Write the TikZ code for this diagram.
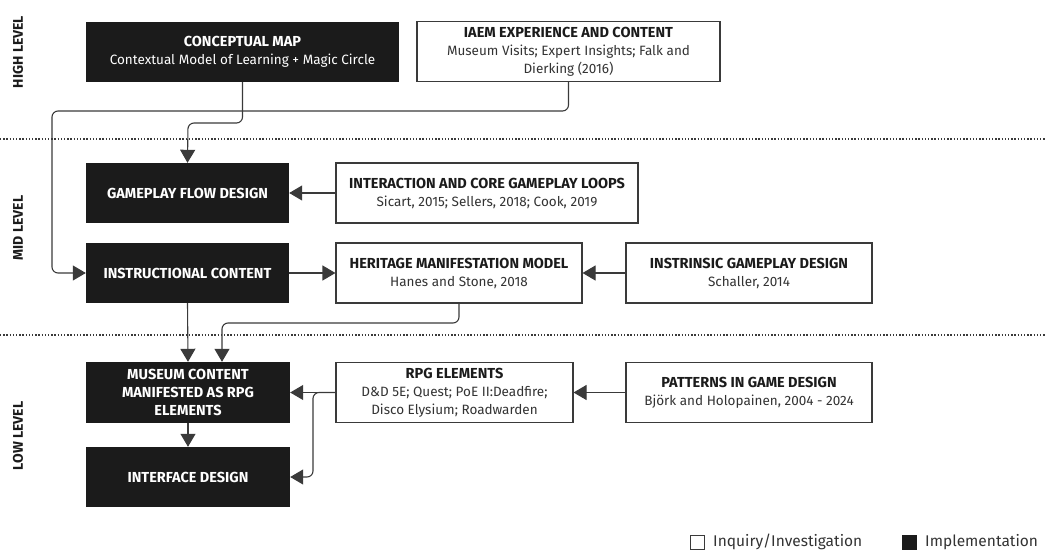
\documentclass[tikz,border=0pt]{standalone}
\usepackage{fontspec}
\setmainfont{Fira Sans}
\usetikzlibrary{arrows.meta}
\definecolor{ink}{HTML}{1B1B1B}
\definecolor{wire}{HTML}{3A3A3A}
\definecolor{sub}{HTML}{333333}
\newcommand{\hd}[1]{{\bfseries\fontsize{14.5}{18}\selectfont\color{ink}#1}}
\begin{document}
\begin{tikzpicture}[x=1pt,y=-1pt,
  txt/.style={font=\fontsize{13.5}{18}\selectfont},
  base/.style={txt, minimum height=60pt, inner sep=0pt, align=center},
  impl/.style={base, fill=ink, text=white, font=\bfseries\fontsize{14.5}{18}\selectfont},
  inq/.style={base, draw=wire, line width=1.1pt, fill=white, text=sub},
  link/.style={draw=wire, line width=1.1pt, -{Triangle[length=13pt,width=15pt]}},
  level/.style={rotate=90, text=ink, font=\bfseries\fontsize{14}{16}\selectfont},
  legend/.style={text=sub, anchor=west, inner sep=0pt, font=\fontsize{15.5}{18}\selectfont},
  sep/.style={draw=wire, line width=1.4pt, dash pattern=on 1.3pt off 1.9pt}]
\useasboundingbox (0,0) rectangle (1046,551);

% level separators
\draw[sep] (0,139) -- (1046,139);
\draw[sep] (0,335) -- (1046,335);

% level labels
\node[level] (lhigh) at (18,52) {HIGH LEVEL};
\node[level] (lmid) at (18,228) {MID LEVEL};
\node[level] (llow) at (18,436) {LOW LEVEL};

% high level
\node[impl, minimum width=313pt] (cmap) at (242.5,52)
  {CONCEPTUAL MAP\\\mdseries\fontsize{13.5}{18}\selectfont Contextual Model of Learning + Magic Circle};
\node[inq, minimum width=303pt] (iaem) at (568.5,51.5)
  {\hd{IAEM EXPERIENCE AND CONTENT}\\Museum Visits; Expert Insights; Falk and\\Dierking (2016)};

% mid level
\node[impl, minimum width=203pt] (gfd) at (187.5,193) {GAMEPLAY FLOW DESIGN};
\node[inq, minimum width=302pt] (inter) at (487,193)
  {\hd{INTERACTION AND CORE GAMEPLAY LOOPS}\\Sicart, 2015; Sellers, 2018; Cook, 2019};
\node[impl, minimum width=203pt] (instr) at (187.5,273) {INSTRUCTIONAL CONTENT};
\node[inq, minimum width=246pt] (herit) at (459,273)
  {\hd{HERITAGE MANIFESTATION MODEL}\\Hanes and Stone, 2018};
\node[inq, minimum width=246pt] (intrin) at (749,273)
  {\hd{INSTRINSIC GAMEPLAY DESIGN}\\Schaller, 2014};

% low level
\node[impl, minimum width=204pt, minimum height=61pt] (museum) at (188,392.5)
  {MUSEUM CONTENT\\MANIFESTED AS RPG\\ELEMENTS};
\node[inq, minimum width=237pt] (rpg) at (454.5,392.5)
  {\hd{RPG ELEMENTS}\\D\&D 5E; Quest; PoE II:Deadfire;\\Disco Elysium; Roadwarden};
\node[inq, minimum width=246pt] (patt) at (749,392.5)
  {\hd{PATTERNS IN GAME DESIGN}\\Björk and Holopainen, 2004 - 2024};
\node[impl, minimum width=204pt] (iface) at (188,477) {INTERFACE DESIGN};

% bend points
\coordinate (cbend) at (188,123);
\coordinate (ibend) at (52,111);
\coordinate (hbend) at (222,323);
\coordinate (rbend) at (313,392.5);

% connectors
\draw[link, rounded corners=6pt] (cmap.south) |- (cbend) -- (gfd.north);
\draw[link, rounded corners=6pt] (iaem.south) |- (ibend) |- (instr.west);
\draw[link] (inter.west) -- (gfd.east);
\draw[link] (instr.east) -- (herit.west);
\draw[link] (intrin.west) -- (herit.east);
\draw[link] (instr.south) -- (museum.north);
\draw[link, rounded corners=6pt] (herit.south) |- (hbend) -- (hbend |- museum.north);
\draw[link] (museum.south) -- (iface.north);
\draw[link] (patt.west) -- (rpg.east);
\draw[link] (rpg.west) -- (museum.east);
\draw[link, rounded corners=6pt] (rpg.west) -- (rbend) |- (iface.east);

% legend
\node[draw=wire, line width=1pt, fill=white, minimum size=14pt, inner sep=0pt] (kinq) at (697.5,542) {};
\node[legend] (kinqt) at (713,542) {Inquiry/Investigation};
\node[fill=ink, minimum size=15pt, inner sep=0pt] (kimp) at (909.5,542) {};
\node[legend] (kimpt) at (925,542) {Implementation};
\end{tikzpicture}
\end{document}
